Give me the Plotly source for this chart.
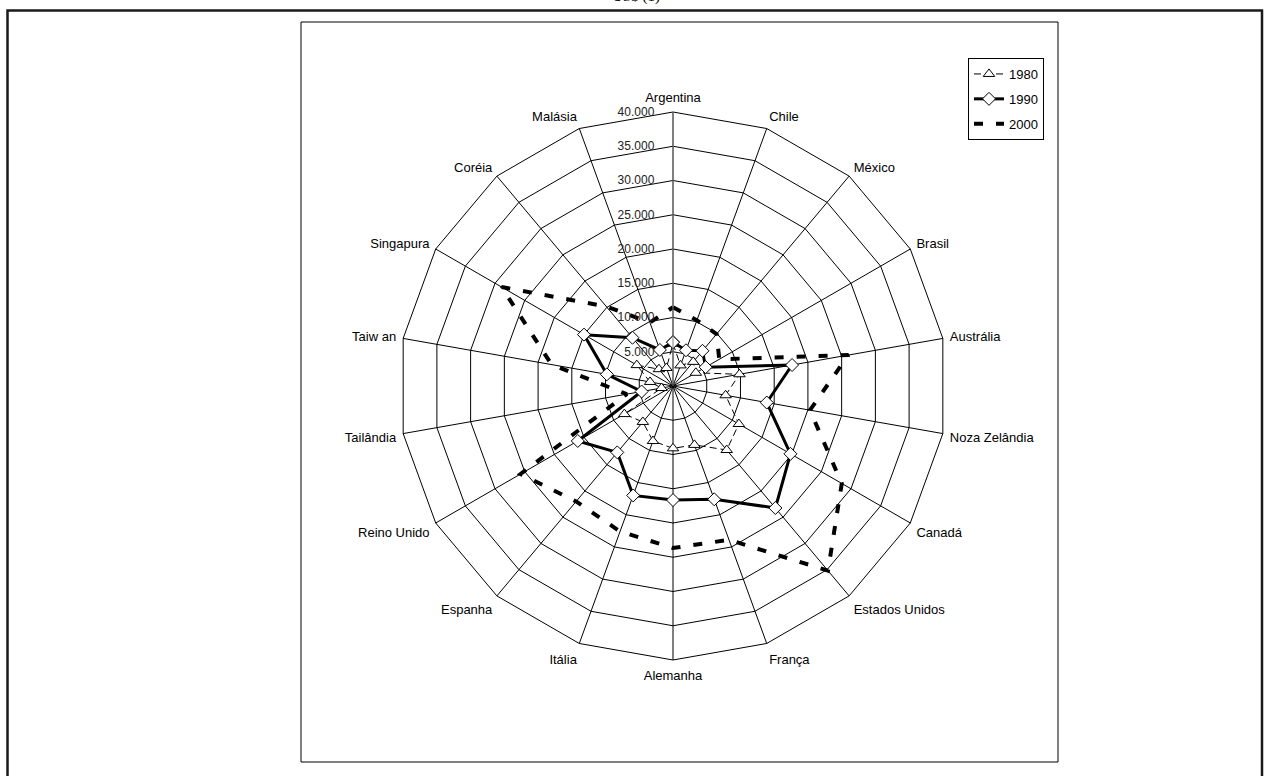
import plotly.graph_objects as go

# countries, clockwise from the top
paises = ["Argentina", "Chile", "México", "Brasil", "Austrália", "Noza Zelândia",
          "Canadá", "Estados Unidos", "França", "Alemanha", "Itália", "Espanha",
          "Reino Unido", "Tailândia", "Taiw an", "Singapura", "Coréia", "Malásia"]

v1980 = [6200, 3200, 4600, 3850, 9850, 7800, 11100, 12200, 9150, 9100,
         8550, 6850, 8200, 1700, 3400, 6100, 3200, 2800]
v1990 = [6400, 5550, 6700, 5500, 17650, 13900, 19800, 23250, 17600, 16650,
         17000, 12650, 16050, 4650, 9800, 15000, 9200, 5600]
v2000 = [11500, 10200, 9900, 7800, 26000, 20300, 28450, 35200, 23900, 23650,
         22600, 22000, 25700, 6850, 18000, 28900, 15150, 9850]

rticks = [5000, 10000, 15000, 20000, 25000, 30000, 35000, 40000]
rtick_txt = ["5.000", "10.000", "15.000", "20.000", "25.000", "30.000", "35.000", "40.000"]

W, H = 1265, 776
cx, cy, R = 673, 386, 274   # centre and outer radius in pixels


def fechar(v):
    # repeat the first point so the polygon closes
    return list(v) + [v[0]]


fig = go.Figure()
fig.add_trace(go.Scatterpolar(
    r=fechar(v1980), theta=fechar(paises), name="1980", legendgroup="a",
    mode="lines+markers",
    line=dict(color="black", width=1, dash="7px,4px"),
    marker=dict(symbol="triangle-up", size=10, color="white",
                line=dict(color="black", width=1))))
fig.add_trace(go.Scatterpolar(
    r=fechar(v1990), theta=fechar(paises), name="1990", legendgroup="b",
    mode="lines+markers",
    line=dict(color="black", width=3),
    marker=dict(symbol="diamond", size=10, color="white",
                line=dict(color="black", width=1))))
fig.add_trace(go.Scatterpolar(
    r=fechar(v2000), theta=fechar(paises), name="2000", legendgroup="c",
    mode="lines",
    line=dict(color="black", width=4, dash="9px,13px")))

fig.update_layout(
    width=W, height=H,
    margin=dict(l=0, r=0, t=0, b=0),
    paper_bgcolor="white",
    separators=",.",
    font=dict(family="Arial", color="black"),
    polar=dict(
        domain=dict(x=[(cx - R) / W, (cx + R) / W],
                    y=[(H - cy - R) / H, (H - cy + R) / H]),
        bgcolor="white",
        gridshape="linear",
        radialaxis=dict(range=[0, 40000], tickvals=rticks, ticktext=rtick_txt,
                        angle=90, tickangle=90, side="counterclockwise",
                        showline=True, linecolor="#808080", linewidth=1,
                        gridcolor="black", gridwidth=1,
                        ticks="outside", ticklen=14, tickcolor="rgba(0,0,0,0)",
                        tickfont=dict(family="Arial", size=12, color="#222")),
        angularaxis=dict(rotation=90, direction="clockwise",
                         gridcolor="black", gridwidth=1,
                         showline=True, linecolor="black", linewidth=1,
                         ticks="outside", ticklen=4, tickcolor="rgba(0,0,0,0)",
                         tickfont=dict(family="Arial", size=13, color="black")),
    ),
    legend=dict(x=968 / W, y=1 - 58 / H, xanchor="left", yanchor="top",
                bgcolor="white", bordercolor="black", borderwidth=1,
                tracegroupgap=5, font=dict(family="Arial", size=13, color="black")),
    shapes=[
        # outer page frame
        dict(type="rect", xref="paper", yref="paper",
             x0=7.5 / W, x1=1262 / W, y0=-0.05, y1=1 - 10.5 / H,
             line=dict(color="#1a1a1a", width=2.5)),
        # chart area border
        dict(type="rect", xref="paper", yref="paper",
             x0=301 / W, x1=1058 / W, y0=1 - 762 / H, y1=1 - 22 / H,
             line=dict(color="black", width=1)),
    ],
    annotations=[
        # title sits above the page, only its bottom edge shows
        dict(text="US$ (1)", xref="paper", yref="paper", x=636 / W, y=1,
             xanchor="center", yanchor="middle", yshift=4, showarrow=False,
             font=dict(family="Liberation Serif", size=15, color="black")),
    ],
)

fig.write_html("out.html", config={"displayModeBar": False},
               post_script="document.body.style.margin='0px';")
